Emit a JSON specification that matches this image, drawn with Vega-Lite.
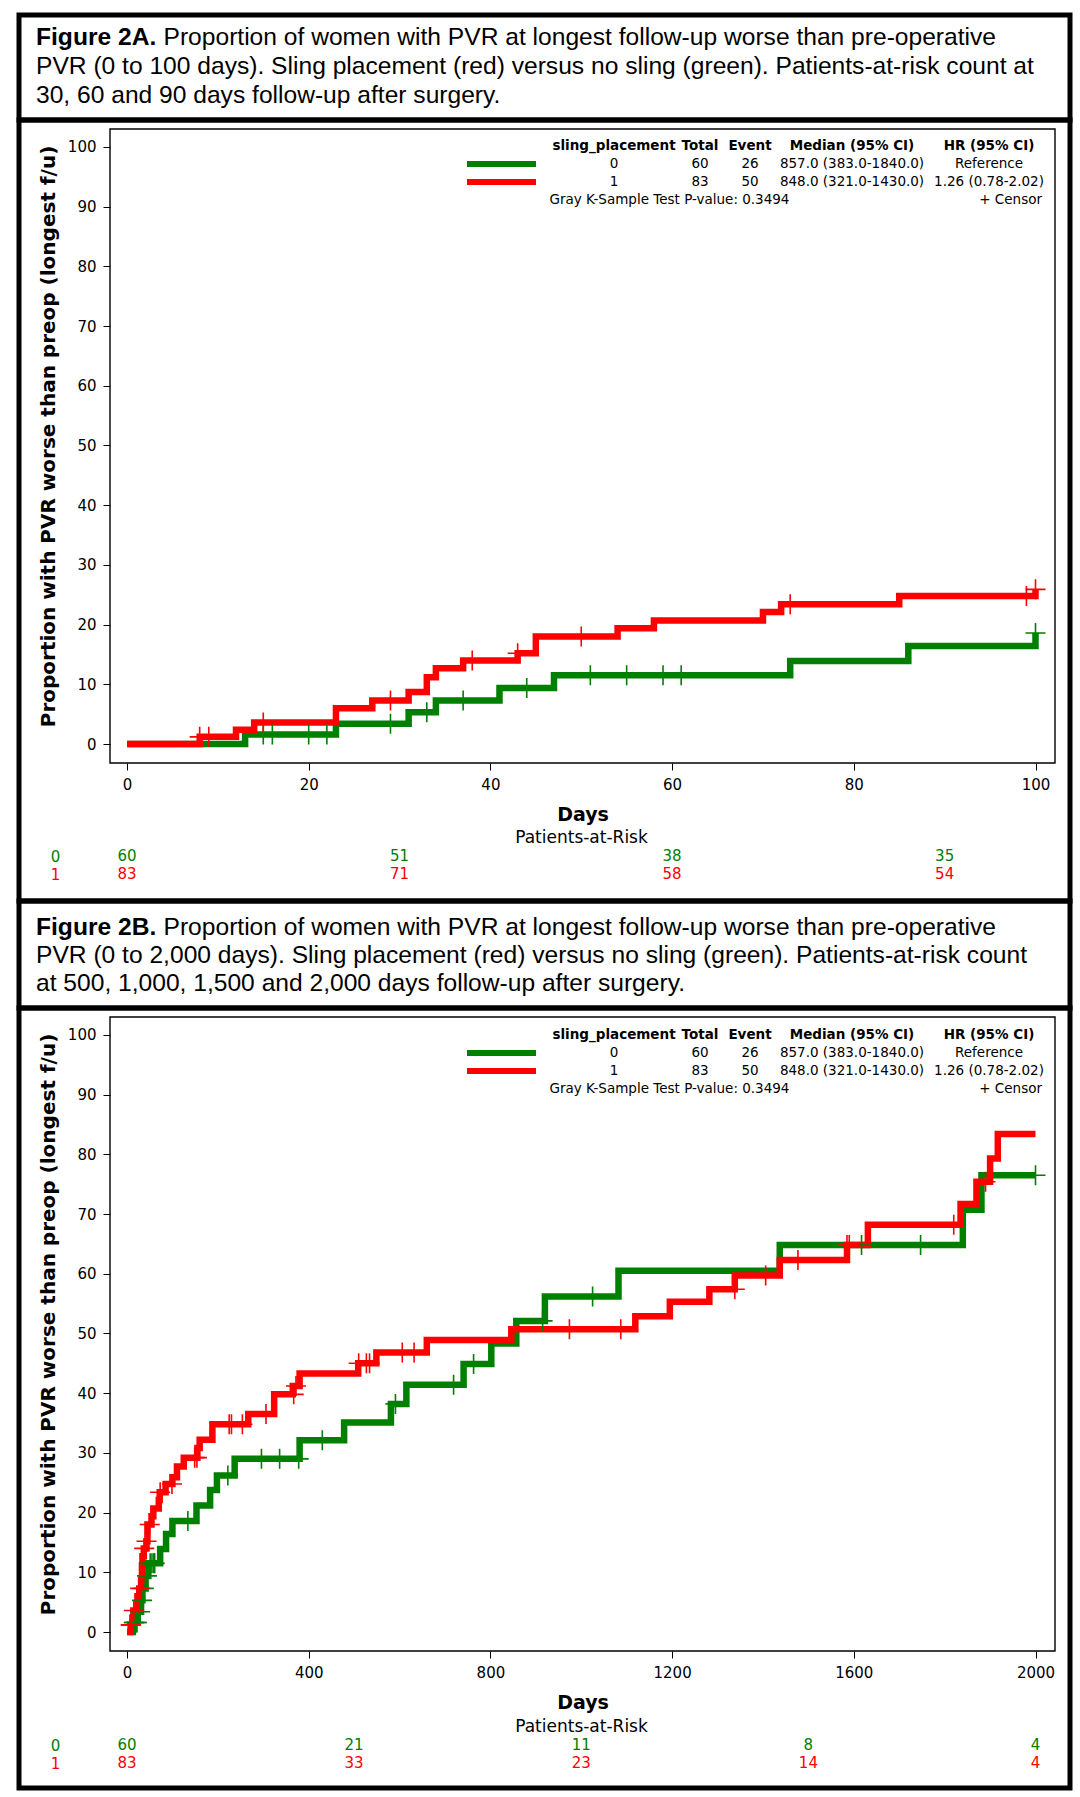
{
  "$schema": "https://vega.github.io/schema/vega-lite/v6.json",
  "background": "white",
  "padding": {"left": 16, "top": 12, "right": 10, "bottom": 10},
  "spacing": 0,
  "bounds": "flush",
  "config": {
    "view": {"stroke": "black", "strokeWidth": 5},
    "font": "DejaVu Sans",
    "axis": {"labelFont": "DejaVu Sans", "titleFont": "DejaVu Sans", "labelColor": "black", "titleColor": "black", "tickColor": "black", "grid": false}
  },
  "datasets": {
    "titleA": [
      {"line": 1, "bold": "Figure 2A.", "text": "Proportion of women with PVR at longest follow-up worse than pre-operative"},
      {"line": 2, "text": "PVR (0 to 100 days). Sling placement (red) versus no sling (green). Patients-at-risk count at"},
      {"line": 3, "text": "30, 60 and 90 days follow-up after surgery."}
    ],
    "titleB": [
      {"line": 1, "bold": "Figure 2B.", "text": "Proportion of women with PVR at longest follow-up worse than pre-operative"},
      {"line": 2, "text": "PVR (0 to 2,000 days). Sling placement (red) versus no sling (green). Patients-at-risk count"},
      {"line": 3, "text": "at 500, 1,000, 1,500 and 2,000 days follow-up after surgery."}
    ],
    "legend": [
      {"row": "hdr", "col": "sling", "text": "sling_placement"},
      {"row": "hdr", "col": "total", "text": "Total"},
      {"row": "hdr", "col": "event", "text": "Event"},
      {"row": "hdr", "col": "median", "text": "Median (95% CI)"},
      {"row": "hdr", "col": "hr", "text": "HR (95% CI)"},
      {"row": "0", "col": "sling", "text": "0"},
      {"row": "0", "col": "total", "text": "60"},
      {"row": "0", "col": "event", "text": "26"},
      {"row": "0", "col": "median", "text": "857.0 (383.0-1840.0)"},
      {"row": "0", "col": "hr", "text": "Reference"},
      {"row": "1", "col": "sling", "text": "1"},
      {"row": "1", "col": "total", "text": "83"},
      {"row": "1", "col": "event", "text": "50"},
      {"row": "1", "col": "median", "text": "848.0 (321.0-1430.0)"},
      {"row": "1", "col": "hr", "text": "1.26 (0.78-2.02)"},
      {"row": "test", "col": "note", "text": "Gray K-Sample Test P-value: 0.3494"},
      {"row": "test", "col": "censor", "text": "+  Censor"}
    ],
    "kmA": [
      {"group": "0", "day": 0, "prop": 0}, {"group": "0", "day": 13, "prop": 1.6}, {"group": "0", "day": 23, "prop": 3.4},
      {"group": "0", "day": 31, "prop": 5.3}, {"group": "0", "day": 34, "prop": 7.3}, {"group": "0", "day": 41, "prop": 9.4},
      {"group": "0", "day": 47, "prop": 11.5}, {"group": "0", "day": 73, "prop": 13.9}, {"group": "0", "day": 86, "prop": 16.4},
      {"group": "0", "day": 100, "prop": 18.6},
      {"group": "1", "day": 0, "prop": 0}, {"group": "1", "day": 8, "prop": 1.2}, {"group": "1", "day": 12, "prop": 2.4},
      {"group": "1", "day": 14, "prop": 3.6}, {"group": "1", "day": 23, "prop": 6.0}, {"group": "1", "day": 27, "prop": 7.3},
      {"group": "1", "day": 31, "prop": 8.7}, {"group": "1", "day": 33, "prop": 11.2}, {"group": "1", "day": 34, "prop": 12.7},
      {"group": "1", "day": 37, "prop": 14.0}, {"group": "1", "day": 43, "prop": 15.2}, {"group": "1", "day": 45, "prop": 18.0},
      {"group": "1", "day": 54, "prop": 19.4}, {"group": "1", "day": 58, "prop": 20.7}, {"group": "1", "day": 70, "prop": 22.1},
      {"group": "1", "day": 72, "prop": 23.4}, {"group": "1", "day": 85, "prop": 24.8}, {"group": "1", "day": 100, "prop": 25.9}
    ],
    "censA": [
      {"group": "0", "day": 15, "prop": 1.6}, {"group": "0", "day": 16, "prop": 1.6}, {"group": "0", "day": 20, "prop": 1.6},
      {"group": "0", "day": 22, "prop": 1.6}, {"group": "0", "day": 29, "prop": 3.4}, {"group": "0", "day": 33, "prop": 5.3},
      {"group": "0", "day": 37, "prop": 7.3}, {"group": "0", "day": 44, "prop": 9.4}, {"group": "0", "day": 51, "prop": 11.5},
      {"group": "0", "day": 55, "prop": 11.5}, {"group": "0", "day": 59, "prop": 11.5}, {"group": "0", "day": 61, "prop": 11.5},
      {"group": "0", "day": 100, "prop": 18.6},
      {"group": "1", "day": 8, "prop": 1.2}, {"group": "1", "day": 9, "prop": 1.2}, {"group": "1", "day": 15, "prop": 3.6},
      {"group": "1", "day": 29, "prop": 7.3}, {"group": "1", "day": 38, "prop": 14.0}, {"group": "1", "day": 43, "prop": 15.2},
      {"group": "1", "day": 50, "prop": 18.0}, {"group": "1", "day": 73, "prop": 23.4}, {"group": "1", "day": 99, "prop": 24.8},
      {"group": "1", "day": 100, "prop": 25.9}
    ],
    "riskA": [
      {"group": "0", "day": 0, "n": 60}, {"group": "0", "day": 30, "n": 51}, {"group": "0", "day": 60, "n": 38}, {"group": "0", "day": 90, "n": 35},
      {"group": "1", "day": 0, "n": 83}, {"group": "1", "day": 30, "n": 71}, {"group": "1", "day": 60, "n": 58}, {"group": "1", "day": 90, "n": 54}
    ],
    "kmB": [
      {"group": "0", "day": 0, "prop": 0}, {"group": "0", "day": 13, "prop": 1.6}, {"group": "0", "day": 23, "prop": 3.4},
      {"group": "0", "day": 31, "prop": 5.3}, {"group": "0", "day": 34, "prop": 7.3}, {"group": "0", "day": 41, "prop": 9.4},
      {"group": "0", "day": 47, "prop": 11.5}, {"group": "0", "day": 73, "prop": 13.9}, {"group": "0", "day": 86, "prop": 16.4},
      {"group": "0", "day": 100, "prop": 18.6}, {"group": "0", "day": 153, "prop": 21.2}, {"group": "0", "day": 183, "prop": 23.8},
      {"group": "0", "day": 198, "prop": 26.2}, {"group": "0", "day": 237, "prop": 29.0}, {"group": "0", "day": 380, "prop": 32.1},
      {"group": "0", "day": 478, "prop": 35.1}, {"group": "0", "day": 581, "prop": 38.2}, {"group": "0", "day": 615, "prop": 41.4},
      {"group": "0", "day": 741, "prop": 44.9}, {"group": "0", "day": 802, "prop": 48.3}, {"group": "0", "day": 857, "prop": 52.1},
      {"group": "0", "day": 920, "prop": 56.2}, {"group": "0", "day": 1082, "prop": 60.5}, {"group": "0", "day": 1437, "prop": 64.8},
      {"group": "0", "day": 1840, "prop": 70.7}, {"group": "0", "day": 1881, "prop": 76.5}, {"group": "0", "day": 2000, "prop": 76.5},
      {"group": "1", "day": 0, "prop": 0}, {"group": "1", "day": 8, "prop": 1.2}, {"group": "1", "day": 12, "prop": 2.4},
      {"group": "1", "day": 14, "prop": 3.6}, {"group": "1", "day": 23, "prop": 6.0}, {"group": "1", "day": 27, "prop": 7.3},
      {"group": "1", "day": 31, "prop": 8.7}, {"group": "1", "day": 33, "prop": 11.2}, {"group": "1", "day": 34, "prop": 12.7},
      {"group": "1", "day": 37, "prop": 14.0}, {"group": "1", "day": 43, "prop": 15.2}, {"group": "1", "day": 45, "prop": 18.0},
      {"group": "1", "day": 54, "prop": 19.4}, {"group": "1", "day": 58, "prop": 20.7}, {"group": "1", "day": 70, "prop": 22.1},
      {"group": "1", "day": 72, "prop": 23.4}, {"group": "1", "day": 85, "prop": 24.8}, {"group": "1", "day": 100, "prop": 25.9},
      {"group": "1", "day": 110, "prop": 27.7}, {"group": "1", "day": 125, "prop": 29.2}, {"group": "1", "day": 155, "prop": 30.8},
      {"group": "1", "day": 160, "prop": 32.2}, {"group": "1", "day": 188, "prop": 34.8}, {"group": "1", "day": 267, "prop": 36.5},
      {"group": "1", "day": 324, "prop": 39.8}, {"group": "1", "day": 365, "prop": 41.2}, {"group": "1", "day": 380, "prop": 43.3},
      {"group": "1", "day": 509, "prop": 45.0}, {"group": "1", "day": 549, "prop": 46.8}, {"group": "1", "day": 660, "prop": 48.9},
      {"group": "1", "day": 846, "prop": 50.7}, {"group": "1", "day": 1119, "prop": 52.9}, {"group": "1", "day": 1195, "prop": 55.3},
      {"group": "1", "day": 1282, "prop": 57.4}, {"group": "1", "day": 1338, "prop": 59.7}, {"group": "1", "day": 1437, "prop": 62.3},
      {"group": "1", "day": 1585, "prop": 64.8}, {"group": "1", "day": 1631, "prop": 68.2}, {"group": "1", "day": 1835, "prop": 71.7},
      {"group": "1", "day": 1870, "prop": 75.4}, {"group": "1", "day": 1900, "prop": 79.3}, {"group": "1", "day": 1917, "prop": 83.4},
      {"group": "1", "day": 2000, "prop": 83.4}
    ],
    "censB": [
      {"group": "0", "day": 15, "prop": 1.6}, {"group": "0", "day": 16, "prop": 1.6}, {"group": "0", "day": 20, "prop": 1.6},
      {"group": "0", "day": 22, "prop": 1.6}, {"group": "0", "day": 29, "prop": 3.4}, {"group": "0", "day": 33, "prop": 5.3},
      {"group": "0", "day": 37, "prop": 7.3}, {"group": "0", "day": 44, "prop": 9.4}, {"group": "0", "day": 51, "prop": 11.5},
      {"group": "0", "day": 55, "prop": 11.5}, {"group": "0", "day": 59, "prop": 11.5}, {"group": "0", "day": 61, "prop": 11.5},
      {"group": "0", "day": 134, "prop": 18.6}, {"group": "0", "day": 222, "prop": 26.2}, {"group": "0", "day": 296, "prop": 29.0},
      {"group": "0", "day": 336, "prop": 29.0}, {"group": "0", "day": 378, "prop": 29.0}, {"group": "0", "day": 430, "prop": 32.1},
      {"group": "0", "day": 591, "prop": 38.2}, {"group": "0", "day": 719, "prop": 41.4}, {"group": "0", "day": 763, "prop": 44.9},
      {"group": "0", "day": 915, "prop": 52.1}, {"group": "0", "day": 1025, "prop": 56.2}, {"group": "0", "day": 1617, "prop": 64.8},
      {"group": "0", "day": 1747, "prop": 64.8}, {"group": "0", "day": 2000, "prop": 76.5},
      {"group": "1", "day": 8, "prop": 1.2}, {"group": "1", "day": 9, "prop": 1.2}, {"group": "1", "day": 15, "prop": 3.6},
      {"group": "1", "day": 29, "prop": 7.3}, {"group": "1", "day": 38, "prop": 14.0}, {"group": "1", "day": 43, "prop": 15.2},
      {"group": "1", "day": 50, "prop": 18.0}, {"group": "1", "day": 73, "prop": 23.4}, {"group": "1", "day": 99, "prop": 24.8},
      {"group": "1", "day": 149, "prop": 29.2}, {"group": "1", "day": 154, "prop": 29.2}, {"group": "1", "day": 225, "prop": 34.8},
      {"group": "1", "day": 230, "prop": 34.8}, {"group": "1", "day": 254, "prop": 34.8}, {"group": "1", "day": 306, "prop": 36.5},
      {"group": "1", "day": 367, "prop": 39.8}, {"group": "1", "day": 372, "prop": 41.2}, {"group": "1", "day": 510, "prop": 45.0},
      {"group": "1", "day": 527, "prop": 45.0}, {"group": "1", "day": 534, "prop": 45.0}, {"group": "1", "day": 606, "prop": 46.8},
      {"group": "1", "day": 632, "prop": 46.8}, {"group": "1", "day": 974, "prop": 50.7}, {"group": "1", "day": 1087, "prop": 50.7},
      {"group": "1", "day": 1338, "prop": 57.4}, {"group": "1", "day": 1406, "prop": 59.7}, {"group": "1", "day": 1477, "prop": 62.3},
      {"group": "1", "day": 1585, "prop": 64.8}, {"group": "1", "day": 1590, "prop": 64.8}, {"group": "1", "day": 1820, "prop": 68.2},
      {"group": "1", "day": 1890, "prop": 75.4}
    ],
    "riskB": [
      {"group": "0", "day": 0, "n": 60}, {"group": "0", "day": 500, "n": 21}, {"group": "0", "day": 1000, "n": 11}, {"group": "0", "day": 1500, "n": 8}, {"group": "0", "day": 2000, "n": 4},
      {"group": "1", "day": 0, "n": 83}, {"group": "1", "day": 500, "n": 33}, {"group": "1", "day": 1000, "n": 23}, {"group": "1", "day": 1500, "n": 14}, {"group": "1", "day": 2000, "n": 4}
    ]
  },
  "vconcat": [
    {
      "width": 1051, "height": 105,
      "data": {"name": "titleA"},
      "encoding": {"y": {"field": "line", "type": "ordinal", "scale": {"type": "point", "domain": [1, 2, 3], "range": [30, 88], "padding": 0}, "axis": null}},
      "layer": [
        {"transform": [{"filter": "datum.line == 1"}], "mark": {"type": "text", "align": "left", "baseline": "alphabetic", "font": "Liberation Sans", "fontSize": 24.6, "fontWeight": "bold", "dx": -508.5, "color": "black"}, "encoding": {"text": {"field": "bold"}}},
        {"transform": [{"filter": "datum.line == 1"}], "mark": {"type": "text", "align": "left", "baseline": "alphabetic", "font": "Liberation Sans", "fontSize": 24.6, "dx": -381, "color": "black"}, "encoding": {"text": {"field": "text"}}},
        {"transform": [{"filter": "datum.line > 1"}], "mark": {"type": "text", "align": "left", "baseline": "alphabetic", "font": "Liberation Sans", "fontSize": 24.6, "dx": -508.5, "color": "black"}, "encoding": {"text": {"field": "text"}}}
      ]
    },
    {
      "width": 1051, "height": 781,
      "resolve": {"scale": {"y": "independent"}},
      "layer": [
        {
          "data": {"values": [{"part": "frame"}]},
          "mark": {"type": "rect", "fill": null, "stroke": "black", "strokeWidth": 1.4},
          "encoding": {
            "x": {"datum": -1.871, "type": "quantitative"},
            "x2": {"datum": 102.146},
            "y": {"datum": -3.18, "type": "quantitative", "scale": {"domain": [-3.18, 103.0], "range": [643, 9], "nice": false, "zero": false}, "axis": null},
            "y2": {"datum": 103.0}
          }
        },
        {
          "data": {"name": "kmA"},
          "mark": {"type": "line", "interpolate": "step-after", "strokeWidth": 6.5},
          "encoding": {
            "x": {"field": "day", "type": "quantitative", "scale": {"domain": [-1.871, 102.146], "range": [91, 1036], "nice": false, "zero": false},
              "axis": {"orient": "bottom", "offset": -138, "values": [0, 20, 40, 60, 80, 100], "format": "d", "domain": false, "tickSize": 7, "tickWidth": 1, "labelFontSize": 15, "labelPadding": 7, "title": "Days", "titleFontSize": 19, "titleFontWeight": "bold", "titleY": 51, "titleBaseline": "middle"}},
            "y": {"field": "prop", "type": "quantitative", "scale": {"domain": [-3.18, 103.0], "range": [643, 9], "nice": false, "zero": false},
              "axis": {"orient": "left", "offset": -91, "values": [0, 10, 20, 30, 40, 50, 60, 70, 80, 90, 100], "format": "d", "domain": false, "tickSize": 7, "tickWidth": 1, "labelFontSize": 15, "labelPadding": 7, "title": "Proportion with PVR worse than preop (longest f/u)", "titleFontSize": 20, "titleFontWeight": "bold", "titleX": -62, "titleY": 316, "titleAngle": -90, "titleAlign": "center", "titleBaseline": "middle"}},
            "color": {"field": "group", "type": "nominal", "scale": {"domain": ["0", "1"], "range": ["#008000", "#FF0000"]}, "legend": null}
          }
        },
        {
          "data": {"name": "censA"},
          "mark": {"type": "point", "shape": "M-10,0H10M0,-10V10", "size": 4, "filled": false, "strokeWidth": 1.6, "opacity": 1},
          "encoding": {
            "x": {"field": "day", "type": "quantitative"},
            "y": {"field": "prop", "type": "quantitative", "scale": {"domain": [-3.18, 103.0], "range": [643, 9], "nice": false, "zero": false}, "axis": null},
            "color": {"field": "group", "type": "nominal", "scale": {"domain": ["0", "1"], "range": ["#008000", "#FF0000"]}, "legend": null}
          }
        },
        {
          "data": {"name": "riskA"},
          "mark": {"type": "text", "fontSize": 15, "align": "center", "baseline": "middle"},
          "encoding": {
            "x": {"field": "day", "type": "quantitative"},
            "y": {"field": "group", "type": "nominal", "scale": {"type": "point", "domain": ["0", "1"], "range": [736, 754], "padding": 0},
              "axis": {"orient": "left", "offset": -36, "domain": false, "ticks": false, "tickSize": 0, "labelPadding": 0, "labelAlign": "center", "labelBaseline": "middle", "labelFontSize": 15,
                "labelColor": {"condition": {"test": "datum.value == '0'", "value": "#008000"}, "value": "#FF0000"},
                "title": "Patients-at-Risk", "titleAngle": 0, "titleX": 526, "titleY": 717, "titleAlign": "center", "titleBaseline": "middle", "titleFontSize": 17, "titleFontWeight": "normal"}},
            "text": {"field": "n", "type": "quantitative"},
            "color": {"field": "group", "type": "nominal", "scale": {"domain": ["0", "1"], "range": ["#008000", "#FF0000"]}, "legend": null}
          }
        },
        {
          "data": {"name": "legend"},
          "encoding": {"y": {"field": "row", "type": "nominal", "scale": {"type": "point", "domain": ["hdr", "0", "1", "test"], "range": [26, 80], "padding": 0}, "axis": null}},
          "layer": [
            {
              "transform": [{"filter": "datum.col == 'sling' && datum.row != 'hdr'"}],
              "mark": {"type": "point", "shape": "M-77.5,0H-8.5", "size": 4, "filled": false, "strokeWidth": 6, "opacity": 1},
              "encoding": {"color": {"field": "row", "type": "nominal", "scale": {"domain": ["0", "1"], "range": ["#008000", "#FF0000"]}, "legend": null}}
            },
            {
              "mark": {"type": "text", "fontSize": 13.5, "baseline": "middle", "color": "black",
                "align": {"expr": "datum.col == 'note' ? 'left' : datum.col == 'censor' ? 'right' : 'center'"},
                "fontWeight": {"expr": "datum.row == 'hdr' ? 'bold' : 'normal'"},
                "dx": {"expr": "datum.col == 'sling' ? 69.5 : datum.col == 'total' ? 155.5 : datum.col == 'event' ? 205.5 : datum.col == 'median' ? 307.5 : datum.col == 'hr' ? 444.5 : datum.col == 'note' ? 5 : 497.5"}},
              "encoding": {"text": {"field": "text"}}
            }
          ]
        }
      ]
    },
    {
      "width": 1051, "height": 107,
      "data": {"name": "titleB"},
      "encoding": {"y": {"field": "line", "type": "ordinal", "scale": {"type": "point", "domain": [1, 2, 3], "range": [34, 89.5], "padding": 0}, "axis": null}},
      "layer": [
        {"transform": [{"filter": "datum.line == 1"}], "mark": {"type": "text", "align": "left", "baseline": "alphabetic", "font": "Liberation Sans", "fontSize": 24.6, "fontWeight": "bold", "dx": -508.5, "color": "black"}, "encoding": {"text": {"field": "bold"}}},
        {"transform": [{"filter": "datum.line == 1"}], "mark": {"type": "text", "align": "left", "baseline": "alphabetic", "font": "Liberation Sans", "fontSize": 24.6, "dx": -381, "color": "black"}, "encoding": {"text": {"field": "text"}}},
        {"transform": [{"filter": "datum.line > 1"}], "mark": {"type": "text", "align": "left", "baseline": "alphabetic", "font": "Liberation Sans", "fontSize": 24.6, "dx": -508.5, "color": "black"}, "encoding": {"text": {"field": "text"}}}
      ]
    },
    {
      "width": 1051, "height": 780,
      "resolve": {"scale": {"y": "independent"}},
      "layer": [
        {
          "data": {"values": [{"part": "frame"}]},
          "mark": {"type": "rect", "fill": null, "stroke": "black", "strokeWidth": 1.4},
          "encoding": {
            "x": {"datum": -37.4, "type": "quantitative"},
            "x2": {"datum": 2042.9},
            "y": {"datum": -3.18, "type": "quantitative", "scale": {"domain": [-3.18, 103.0], "range": [643, 9], "nice": false, "zero": false}, "axis": null},
            "y2": {"datum": 103.0}
          }
        },
        {
          "data": {"name": "kmB"},
          "mark": {"type": "line", "interpolate": "step-after", "strokeWidth": 6.5},
          "encoding": {
            "x": {"field": "day", "type": "quantitative", "scale": {"domain": [-37.4, 2042.9], "range": [91, 1036], "nice": false, "zero": false},
              "axis": {"orient": "bottom", "offset": -137, "values": [0, 400, 800, 1200, 1600, 2000], "format": "d", "domain": false, "tickSize": 7, "tickWidth": 1, "labelFontSize": 15, "labelPadding": 7, "title": "Days", "titleFontSize": 19, "titleFontWeight": "bold", "titleY": 51, "titleBaseline": "middle"}},
            "y": {"field": "prop", "type": "quantitative", "scale": {"domain": [-3.18, 103.0], "range": [643, 9], "nice": false, "zero": false},
              "axis": {"orient": "left", "offset": -91, "values": [0, 10, 20, 30, 40, 50, 60, 70, 80, 90, 100], "format": "d", "domain": false, "tickSize": 7, "tickWidth": 1, "labelFontSize": 15, "labelPadding": 7, "title": "Proportion with PVR worse than preop (longest f/u)", "titleFontSize": 20, "titleFontWeight": "bold", "titleX": -62, "titleY": 316, "titleAngle": -90, "titleAlign": "center", "titleBaseline": "middle"}},
            "color": {"field": "group", "type": "nominal", "scale": {"domain": ["0", "1"], "range": ["#008000", "#FF0000"]}, "legend": null}
          }
        },
        {
          "data": {"name": "censB"},
          "mark": {"type": "point", "shape": "M-10,0H10M0,-10V10", "size": 4, "filled": false, "strokeWidth": 1.6, "opacity": 1},
          "encoding": {
            "x": {"field": "day", "type": "quantitative"},
            "y": {"field": "prop", "type": "quantitative", "scale": {"domain": [-3.18, 103.0], "range": [643, 9], "nice": false, "zero": false}, "axis": null},
            "color": {"field": "group", "type": "nominal", "scale": {"domain": ["0", "1"], "range": ["#008000", "#FF0000"]}, "legend": null}
          }
        },
        {
          "data": {"name": "riskB"},
          "mark": {"type": "text", "fontSize": 15, "align": "center", "baseline": "middle"},
          "encoding": {
            "x": {"field": "day", "type": "quantitative"},
            "y": {"field": "group", "type": "nominal", "scale": {"type": "point", "domain": ["0", "1"], "range": [737, 755], "padding": 0},
              "axis": {"orient": "left", "offset": -36, "domain": false, "ticks": false, "tickSize": 0, "labelPadding": 0, "labelAlign": "center", "labelBaseline": "middle", "labelFontSize": 15,
                "labelColor": {"condition": {"test": "datum.value == '0'", "value": "#008000"}, "value": "#FF0000"},
                "title": "Patients-at-Risk", "titleAngle": 0, "titleX": 526, "titleY": 718, "titleAlign": "center", "titleBaseline": "middle", "titleFontSize": 17, "titleFontWeight": "normal"}},
            "text": {"field": "n", "type": "quantitative"},
            "color": {"field": "group", "type": "nominal", "scale": {"domain": ["0", "1"], "range": ["#008000", "#FF0000"]}, "legend": null}
          }
        },
        {
          "data": {"name": "legend"},
          "encoding": {"y": {"field": "row", "type": "nominal", "scale": {"type": "point", "domain": ["hdr", "0", "1", "test"], "range": [27, 81], "padding": 0}, "axis": null}},
          "layer": [
            {
              "transform": [{"filter": "datum.col == 'sling' && datum.row != 'hdr'"}],
              "mark": {"type": "point", "shape": "M-77.5,0H-8.5", "size": 4, "filled": false, "strokeWidth": 6, "opacity": 1},
              "encoding": {"color": {"field": "row", "type": "nominal", "scale": {"domain": ["0", "1"], "range": ["#008000", "#FF0000"]}, "legend": null}}
            },
            {
              "mark": {"type": "text", "fontSize": 13.5, "baseline": "middle", "color": "black",
                "align": {"expr": "datum.col == 'note' ? 'left' : datum.col == 'censor' ? 'right' : 'center'"},
                "fontWeight": {"expr": "datum.row == 'hdr' ? 'bold' : 'normal'"},
                "dx": {"expr": "datum.col == 'sling' ? 69.5 : datum.col == 'total' ? 155.5 : datum.col == 'event' ? 205.5 : datum.col == 'median' ? 307.5 : datum.col == 'hr' ? 444.5 : datum.col == 'note' ? 5 : 497.5"}},
              "encoding": {"text": {"field": "text"}}
            }
          ]
        }
      ]
    }
  ]
}
